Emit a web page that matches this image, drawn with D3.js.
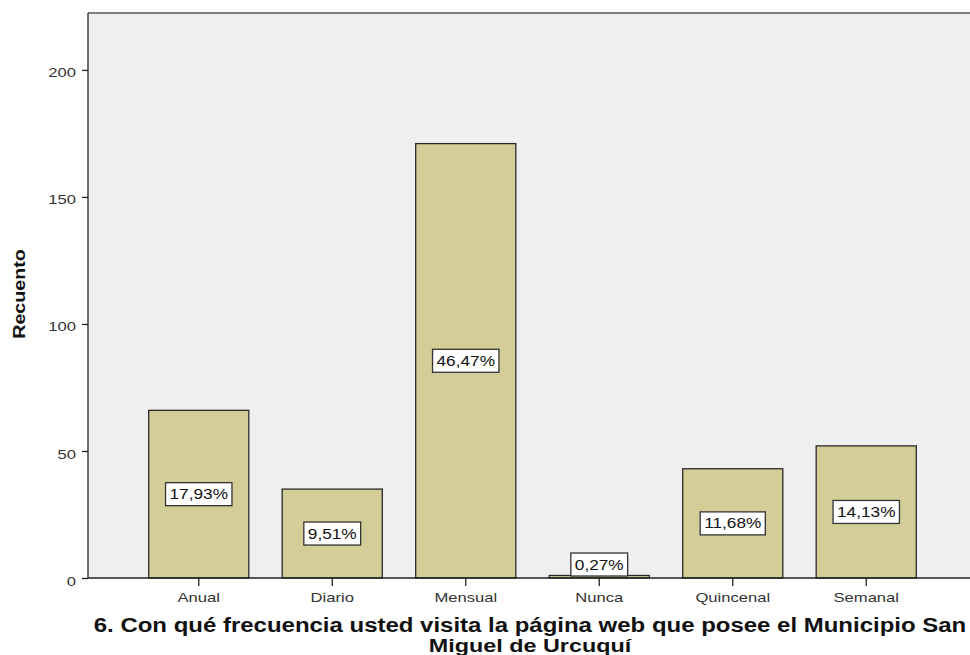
<!DOCTYPE html>
<html>
<head>
<meta charset="utf-8">
<script src="https://cdn.jsdelivr.net/npm/d3@7"></script>
<style>
  html, body { margin: 0; padding: 0; background: #fff; }
  svg { display: block; font-family: Arial, "Liberation Sans", sans-serif; }
</style>
</head>
<body>
<svg id="chart" width="970" height="655"></svg>
<script>
// Frequency of visits to the municipal website (counts)
const categories = ["Anual", "Diario", "Mensual", "Nunca", "Quincenal", "Semanal"];
const counts = [66, 35, 171, 1, 43, 52];
const percentLabels = ["17,93%", "9,51%", "46,47%", "0,27%", "11,68%", "14,13%"];
const yTicks = [0, 50, 100, 150, 200];
const yTitle = "Recuento";
const xTitleLines = ["6. Con qué frecuencia usted visita la página web que posee el Municipio San", "Miguel de Urcuquí"];

const FONT = "Arial, 'Liberation Sans', sans-serif";
const SX = 1.23; // wide lettering: horizontal stretch applied to all text

const svg = d3.select("#chart");
const plot = { left: 88, right: 977, top: 13, bottom: 578 };

const x = d3.scaleBand()
  .domain(categories)
  .range([132, 933])
  .paddingInner(0.25)
  .paddingOuter(0.125);

const y = d3.scaleLinear()
  .domain([0, 222.4])
  .range([plot.bottom, plot.top]);

// plot background
svg.append("rect")
  .attr("x", plot.left).attr("y", plot.top)
  .attr("width", plot.right - plot.left).attr("height", plot.bottom - plot.top)
  .attr("fill", "#efefef");

// top frame line
svg.append("line")
  .attr("x1", plot.left).attr("x2", plot.right)
  .attr("y1", plot.top).attr("y2", plot.top)
  .attr("stroke", "#7f7f7f").attr("stroke-width", 2);

// bars
svg.append("g").selectAll("rect")
  .data(categories)
  .join("rect")
  .attr("x", d => x(d))
  .attr("y", (d, i) => y(counts[i]))
  .attr("width", x.bandwidth())
  .attr("height", (d, i) => y(0) - y(counts[i]))
  .attr("fill", "#d3ce98")
  .attr("stroke", "#2a2a2a")
  .attr("stroke-width", 1.3);

// y axis
const yAxis = svg.append("g")
  .attr("transform", `translate(${plot.left},0)`)
  .call(d3.axisLeft(y).tickValues(yTicks).tickSize(6).tickSizeOuter(0));
yAxis.select(".domain").attr("stroke", "#222").attr("stroke-width", 1.3)
  .attr("d", `M0,${plot.top}V${plot.bottom}`);
yAxis.selectAll(".tick line").attr("stroke", "#222").attr("stroke-width", 1.3);
yAxis.selectAll(".tick text")
  .attr("font-size", 13.5).attr("fill", "#333").attr("font-family", FONT)
  .attr("x", -12 / SX).attr("dy", "0.52em")
  .attr("transform", `scale(${SX},1)`);

// x axis
const xAxis = svg.append("g")
  .attr("transform", `translate(0,${plot.bottom})`)
  .call(d3.axisBottom(x).tickSize(8).tickSizeOuter(0));
xAxis.select(".domain").attr("stroke", "#222").attr("stroke-width", 1.3)
  .attr("d", `M${plot.left},0H${plot.right}`);
xAxis.selectAll(".tick line").attr("stroke", "#222").attr("stroke-width", 1.3);
xAxis.selectAll(".tick text")
  .attr("font-size", 13.5).attr("fill", "#333").attr("font-family", FONT)
  .attr("y", 24).attr("dy", 0)
  .attr("transform", `scale(${SX},1)`);

// percentage labels in boxes
const boxH = 23;
const labels = svg.append("g").selectAll("g")
  .data(categories)
  .join("g")
  .attr("transform", (d, i) => {
    const mid = (y(counts[i]) + y(0)) / 2;
    const cy = Math.min(mid, y(0) - boxH / 2 - 2);
    return `translate(${x(d) + x.bandwidth() / 2},${cy})`;
  });
labels.append("text")
  .attr("text-anchor", "middle")
  .attr("dy", "0.36em")
  .attr("font-size", 14)
  .attr("fill", "#111")
  .attr("transform", `scale(${SX},1)`)
  .text((d, i) => percentLabels[i])
  .each(function () {
    const w = this.getComputedTextLength() * SX + 8;
    d3.select(this.parentNode).insert("rect", "text")
      .attr("x", -w / 2).attr("y", -boxH / 2)
      .attr("width", w).attr("height", boxH)
      .attr("fill", "#fff").attr("stroke", "#333").attr("stroke-width", 1.3);
  });

// axis titles
svg.append("text")
  .attr("transform", `translate(25,${294}) rotate(-90) scale(${SX},1)`)
  .attr("text-anchor", "middle")
  .attr("font-size", 16).attr("font-weight", "bold").attr("fill", "#111")
  .text(yTitle);

const cx = 530;
svg.append("g")
  .attr("transform", `scale(${SX},1)`)
  .selectAll("text")
  .data(xTitleLines)
  .join("text")
  .attr("text-anchor", "middle")
  .attr("font-size", (d, i) => i === 0 ? 19.5 : 19)
  .attr("font-weight", "bold").attr("fill", "#111")
  .attr("x", cx / SX)
  .attr("y", (d, i) => 632 + i * 20)
  .text(d => d);
</script>
</body>
</html>
